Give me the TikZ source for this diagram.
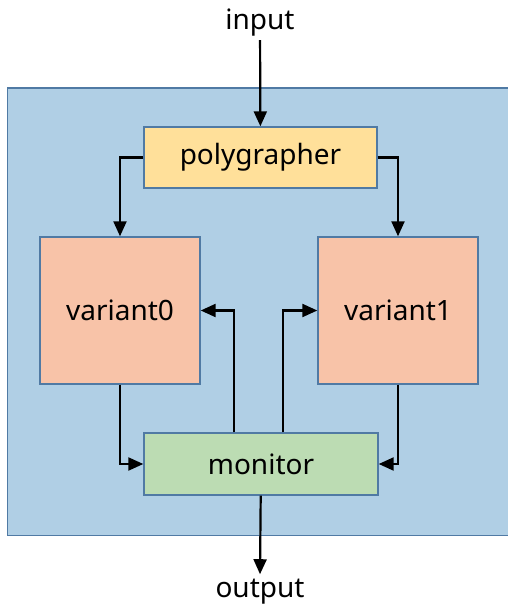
\documentclass[tikz,border=0pt]{standalone}
\usepackage{fontspec}
\setmainfont{Noto Sans}
\usepackage{tikz}
\usetikzlibrary{arrows.meta, positioning}
\definecolor{sysblue}{RGB}{176,207,229}
\definecolor{edgeblue}{RGB}{80,122,164}
\definecolor{polyyellow}{RGB}{255,224,154}
\definecolor{varsalmon}{RGB}{248,195,168}
\definecolor{mongreen}{RGB}{188,220,179}
\tikzstyle{system} = [rectangle,
minimum width=510pt,
minimum height=447pt,
draw=edgeblue, line width=1.8pt,
fill=sysblue]
\tikzstyle{splitter} = [rectangle,
minimum width=233pt,
minimum height=61pt,
text centered,
draw=edgeblue, line width=1.4pt,
fill=polyyellow]
\tikzstyle{variant} = [rectangle,
minimum width=160pt,
minimum height=147pt,
text centered,
draw=edgeblue, line width=1.4pt,
fill=varsalmon]
\tikzstyle{checker} = [rectangle,
minimum width=234pt,
minimum height=62pt,
text centered,
draw=edgeblue, line width=1.4pt,
fill=mongreen]
\tikzstyle{arrow} = [line width=2.2pt,-{Triangle[length=15pt,width=13pt]}]

\begin{document}
\begin{tikzpicture}[x=1pt, y=-1pt, font=\fontsize{28}{33}\selectfont]
                \useasboundingbox (0,0) rectangle (507,609);
                \node (sys) [system, anchor=north west] at (6.5,87.5) {};
                \node (poly) [splitter] at (260.5,157.5) {polygrapher};
                \node (var0) [variant] at (120,310.5) {variant0};
                \node (var1) [variant] at (398,310.5) {variant1};
                \node (mon) [checker] at (261,464) {monitor};
                \node (in) at (260,23) {input};
                \node (out) [inner ysep=1pt] at (260,592) {output};

                \draw [arrow] (in) -- (poly);
                \draw [arrow] (poly.west) -| (var0.north);
                \draw [arrow] (poly.east) -| (var1.north);
                \draw [arrow] (var0.south) |- (mon.west);
                \draw [arrow] (var1.south) |- (mon.east);
                \draw [arrow] ([xshift=-27pt]mon.north) |- (var0.east);
                \draw [arrow] ([xshift=22pt]mon.north) |- (var1.west);
                \draw [arrow] (mon) -- ([yshift=4pt]out.north);
            \end{tikzpicture}
\end{document}
